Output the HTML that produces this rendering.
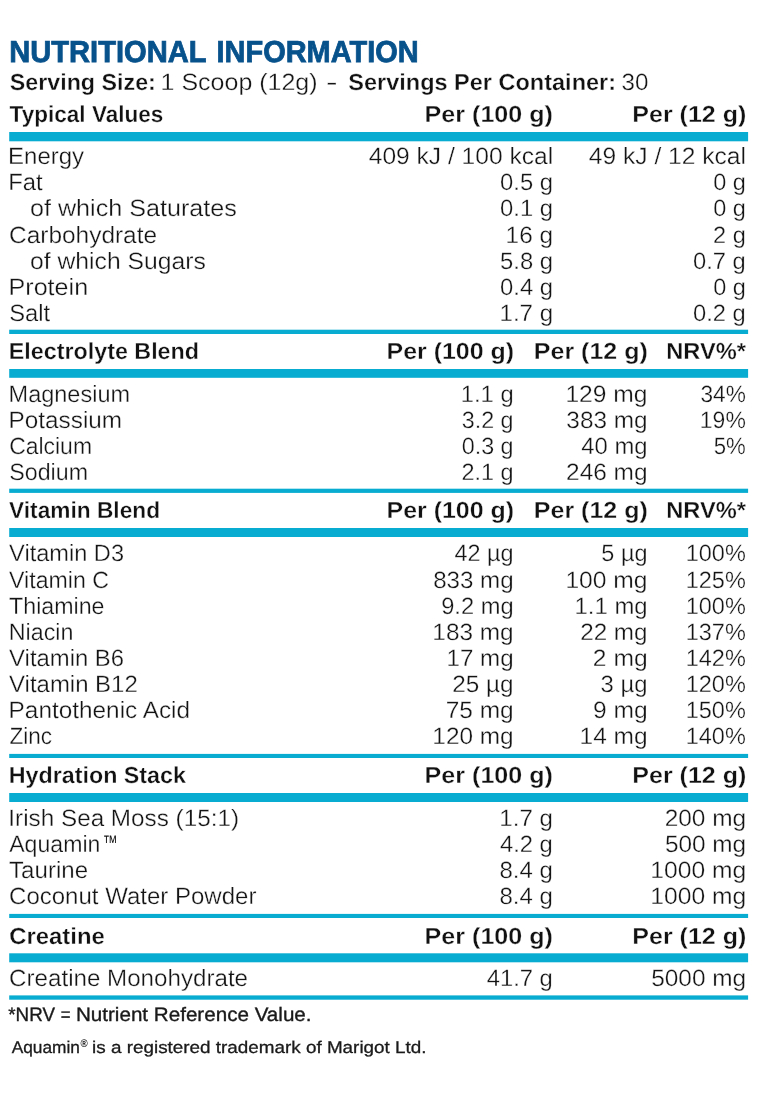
<!DOCTYPE html>
<html lang="en">
<head>
<meta charset="utf-8">
<title>Nutritional Information</title>
<style>
html,body{margin:0;padding:0;background:#fff;}
body{width:771px;height:1096px;overflow:hidden;}
svg{display:block;}
text{font-family:"Liberation Sans",Arial,Helvetica,sans-serif;white-space:pre;text-rendering:geometricPrecision;}
.light{font-size:23.5px;font-weight:400;fill:#141414;stroke:#fff;stroke-width:0.3px;}
.bold{font-size:23.2px;font-weight:700;fill:#111111;stroke:#fff;stroke-width:0.3px;}
.title{font-size:30.4px;font-weight:700;fill:#08528c;stroke:#08528c;stroke-width:0.8px;}
.note1{font-size:19.5px;font-weight:400;fill:#1a1a1a;stroke:#1a1a1a;stroke-width:0.35px;}
.note2{font-size:17.0px;font-weight:400;fill:#1a1a1a;stroke:#1a1a1a;stroke-width:0.3px;}
.tm{font-size:19.5px;font-weight:400;fill:#141414;}
.bar{fill:#08acd0;}
</style>
</head>
<body>
<svg width="771" height="1096" viewBox="0 0 771 1096">
<rect x="0" y="0" width="771" height="1096" fill="#ffffff"/>
<rect class="bar" x="9.2" y="132.00" width="738.90" height="9.30"/>
<rect class="bar" x="9.2" y="369.00" width="738.90" height="8.80"/>
<rect class="bar" x="9.2" y="528.00" width="738.90" height="9.00"/>
<rect class="bar" x="9.2" y="793.00" width="738.90" height="9.00"/>
<rect class="bar" x="9.2" y="953.30" width="738.90" height="9.00"/>
<rect class="bar" x="9.2" y="329.70" width="738.90" height="4.30"/>
<rect class="bar" x="9.2" y="488.70" width="738.90" height="4.20"/>
<rect class="bar" x="9.2" y="753.90" width="738.90" height="4.10"/>
<rect class="bar" x="9.2" y="913.90" width="738.90" height="4.10"/>
<rect class="bar" x="9.2" y="995.40" width="738.90" height="4.30"/>
<text class="title" x="9.25" y="62.00" textLength="197.24" lengthAdjust="spacingAndGlyphs">NUTRITIONAL</text>
<text class="title" x="216.58" y="62.00" textLength="202.05" lengthAdjust="spacingAndGlyphs">INFORMATION</text>
<text class="bold" x="9.73" y="90.00" textLength="146.11" lengthAdjust="spacingAndGlyphs">Serving Size:</text>
<text class="light" x="160.60" y="90.00" textLength="156.95" lengthAdjust="spacingAndGlyphs">1 Scoop (12g)</text>
<text class="light" x="325.95" y="90.00" textLength="11.59" lengthAdjust="spacingAndGlyphs">-</text>
<text class="bold" x="348.32" y="90.00" textLength="267.74" lengthAdjust="spacingAndGlyphs">Servings Per Container:</text>
<text class="light" x="621.58" y="90.00" textLength="26.86" lengthAdjust="spacingAndGlyphs">30</text>
<text class="bold" x="9.55" y="122.00" textLength="153.86" lengthAdjust="spacingAndGlyphs">Typical Values</text>
<text class="bold" x="424.62" y="122.00" textLength="128.33" lengthAdjust="spacingAndGlyphs">Per (100 g)</text>
<text class="bold" x="632.33" y="122.00" textLength="113.92" lengthAdjust="spacingAndGlyphs">Per (12 g)</text>
<text class="light" x="8.13" y="164.00" textLength="75.91" lengthAdjust="spacingAndGlyphs">Energy</text>
<text class="light" x="368.74" y="164.00" textLength="184.41" lengthAdjust="spacingAndGlyphs">409 kJ / 100 kcal</text>
<text class="light" x="588.84" y="164.00" textLength="157.11" lengthAdjust="spacingAndGlyphs">49 kJ / 12 kcal</text>
<text class="light" x="8.25" y="190.00" textLength="34.43" lengthAdjust="spacingAndGlyphs">Fat</text>
<text class="light" x="500.07" y="190.00" textLength="52.97" lengthAdjust="spacingAndGlyphs">0.5 g</text>
<text class="light" x="713.18" y="190.00" textLength="32.63" lengthAdjust="spacingAndGlyphs">0 g</text>
<text class="light" x="29.94" y="216.00" textLength="206.97" lengthAdjust="spacingAndGlyphs">of which Saturates</text>
<text class="light" x="500.07" y="216.00" textLength="52.97" lengthAdjust="spacingAndGlyphs">0.1 g</text>
<text class="light" x="713.18" y="216.00" textLength="32.63" lengthAdjust="spacingAndGlyphs">0 g</text>
<text class="light" x="9.06" y="243.00" textLength="148.03" lengthAdjust="spacingAndGlyphs">Carbohydrate</text>
<text class="light" x="505.64" y="243.00" textLength="47.43" lengthAdjust="spacingAndGlyphs">16 g</text>
<text class="light" x="713.12" y="243.00" textLength="32.70" lengthAdjust="spacingAndGlyphs">2 g</text>
<text class="light" x="29.96" y="269.00" textLength="175.93" lengthAdjust="spacingAndGlyphs">of which Sugars</text>
<text class="light" x="500.05" y="269.00" textLength="52.99" lengthAdjust="spacingAndGlyphs">5.8 g</text>
<text class="light" x="693.07" y="269.00" textLength="52.76" lengthAdjust="spacingAndGlyphs">0.7 g</text>
<text class="light" x="8.54" y="295.00" textLength="79.59" lengthAdjust="spacingAndGlyphs">Protein</text>
<text class="light" x="500.07" y="295.00" textLength="52.97" lengthAdjust="spacingAndGlyphs">0.4 g</text>
<text class="light" x="713.18" y="295.00" textLength="32.63" lengthAdjust="spacingAndGlyphs">0 g</text>
<text class="light" x="9.22" y="321.00" textLength="40.95" lengthAdjust="spacingAndGlyphs">Salt</text>
<text class="light" x="499.57" y="321.00" textLength="53.48" lengthAdjust="spacingAndGlyphs">1.7 g</text>
<text class="light" x="693.07" y="321.00" textLength="52.76" lengthAdjust="spacingAndGlyphs">0.2 g</text>
<text class="bold" x="8.74" y="359.00" textLength="190.29" lengthAdjust="spacingAndGlyphs">Electrolyte Blend</text>
<text class="bold" x="386.63" y="359.00" textLength="127.41" lengthAdjust="spacingAndGlyphs">Per (100 g)</text>
<text class="bold" x="533.83" y="359.00" textLength="113.92" lengthAdjust="spacingAndGlyphs">Per (12 g)</text>
<text class="bold" x="666.23" y="359.00" textLength="79.80" lengthAdjust="spacingAndGlyphs">NRV%*</text>
<text class="light" x="8.57" y="402.00" textLength="121.48" lengthAdjust="spacingAndGlyphs">Magnesium</text>
<text class="light" x="460.79" y="402.00" textLength="52.84" lengthAdjust="spacingAndGlyphs">1.1 g</text>
<text class="light" x="565.42" y="402.00" textLength="82.16" lengthAdjust="spacingAndGlyphs">129 mg</text>
<text class="light" x="700.44" y="402.00" textLength="45.37" lengthAdjust="spacingAndGlyphs">34%</text>
<text class="light" x="8.61" y="428.00" textLength="113.50" lengthAdjust="spacingAndGlyphs">Potassium</text>
<text class="light" x="461.71" y="428.00" textLength="51.89" lengthAdjust="spacingAndGlyphs">3.2 g</text>
<text class="light" x="566.37" y="428.00" textLength="81.20" lengthAdjust="spacingAndGlyphs">383 mg</text>
<text class="light" x="699.85" y="428.00" textLength="45.97" lengthAdjust="spacingAndGlyphs">19%</text>
<text class="light" x="9.13" y="454.00" textLength="82.88" lengthAdjust="spacingAndGlyphs">Calcium</text>
<text class="light" x="461.69" y="454.00" textLength="51.92" lengthAdjust="spacingAndGlyphs">0.3 g</text>
<text class="light" x="581.25" y="454.00" textLength="66.28" lengthAdjust="spacingAndGlyphs">40 mg</text>
<text class="light" x="713.71" y="454.00" textLength="32.08" lengthAdjust="spacingAndGlyphs">5%</text>
<text class="light" x="9.24" y="480.00" textLength="78.79" lengthAdjust="spacingAndGlyphs">Sodium</text>
<text class="light" x="461.42" y="480.00" textLength="52.19" lengthAdjust="spacingAndGlyphs">2.1 g</text>
<text class="light" x="566.07" y="480.00" textLength="81.50" lengthAdjust="spacingAndGlyphs">246 mg</text>
<text class="bold" x="9.05" y="518.00" textLength="150.95" lengthAdjust="spacingAndGlyphs">Vitamin Blend</text>
<text class="bold" x="386.63" y="518.00" textLength="127.41" lengthAdjust="spacingAndGlyphs">Per (100 g)</text>
<text class="bold" x="533.83" y="518.00" textLength="113.92" lengthAdjust="spacingAndGlyphs">Per (12 g)</text>
<text class="bold" x="666.23" y="518.00" textLength="79.80" lengthAdjust="spacingAndGlyphs">NRV%*</text>
<text class="light" x="9.10" y="561.00" textLength="114.94" lengthAdjust="spacingAndGlyphs">Vitamin D3</text>
<text class="light" x="454.46" y="561.00" textLength="59.15" lengthAdjust="spacingAndGlyphs">42 µg</text>
<text class="light" x="601.36" y="561.00" textLength="46.15" lengthAdjust="spacingAndGlyphs">5 µg</text>
<text class="light" x="685.71" y="561.00" textLength="60.13" lengthAdjust="spacingAndGlyphs">100%</text>
<text class="light" x="9.10" y="588.00" textLength="99.78" lengthAdjust="spacingAndGlyphs">Vitamin C</text>
<text class="light" x="433.15" y="588.00" textLength="80.50" lengthAdjust="spacingAndGlyphs">833 mg</text>
<text class="light" x="565.42" y="588.00" textLength="82.16" lengthAdjust="spacingAndGlyphs">100 mg</text>
<text class="light" x="685.71" y="588.00" textLength="60.13" lengthAdjust="spacingAndGlyphs">125%</text>
<text class="light" x="9.08" y="614.00" textLength="95.45" lengthAdjust="spacingAndGlyphs">Thiamine</text>
<text class="light" x="441.19" y="614.00" textLength="72.44" lengthAdjust="spacingAndGlyphs">9.2 mg</text>
<text class="light" x="574.58" y="614.00" textLength="72.96" lengthAdjust="spacingAndGlyphs">1.1 mg</text>
<text class="light" x="685.71" y="614.00" textLength="60.13" lengthAdjust="spacingAndGlyphs">100%</text>
<text class="light" x="8.79" y="640.00" textLength="64.72" lengthAdjust="spacingAndGlyphs">Niacin</text>
<text class="light" x="432.34" y="640.00" textLength="81.33" lengthAdjust="spacingAndGlyphs">183 mg</text>
<text class="light" x="580.18" y="640.00" textLength="67.38" lengthAdjust="spacingAndGlyphs">22 mg</text>
<text class="light" x="685.71" y="640.00" textLength="60.13" lengthAdjust="spacingAndGlyphs">137%</text>
<text class="light" x="9.10" y="666.00" textLength="114.95" lengthAdjust="spacingAndGlyphs">Vitamin B6</text>
<text class="light" x="446.56" y="666.00" textLength="67.09" lengthAdjust="spacingAndGlyphs">17 mg</text>
<text class="light" x="592.86" y="666.00" textLength="54.72" lengthAdjust="spacingAndGlyphs">2 mg</text>
<text class="light" x="685.71" y="666.00" textLength="60.13" lengthAdjust="spacingAndGlyphs">142%</text>
<text class="light" x="9.10" y="692.00" textLength="128.60" lengthAdjust="spacingAndGlyphs">Vitamin B12</text>
<text class="light" x="452.28" y="692.00" textLength="61.39" lengthAdjust="spacingAndGlyphs">25 µg</text>
<text class="light" x="600.59" y="692.00" textLength="46.95" lengthAdjust="spacingAndGlyphs">3 µg</text>
<text class="light" x="685.71" y="692.00" textLength="60.13" lengthAdjust="spacingAndGlyphs">120%</text>
<text class="light" x="8.62" y="718.00" textLength="181.44" lengthAdjust="spacingAndGlyphs">Pantothenic Acid</text>
<text class="light" x="445.65" y="718.00" textLength="68.03" lengthAdjust="spacingAndGlyphs">75 mg</text>
<text class="light" x="592.95" y="718.00" textLength="54.64" lengthAdjust="spacingAndGlyphs">9 mg</text>
<text class="light" x="685.71" y="718.00" textLength="60.13" lengthAdjust="spacingAndGlyphs">150%</text>
<text class="light" x="9.48" y="744.00" textLength="42.61" lengthAdjust="spacingAndGlyphs">Zinc</text>
<text class="light" x="432.34" y="744.00" textLength="81.33" lengthAdjust="spacingAndGlyphs">120 mg</text>
<text class="light" x="579.54" y="744.00" textLength="68.04" lengthAdjust="spacingAndGlyphs">14 mg</text>
<text class="light" x="685.71" y="744.00" textLength="60.13" lengthAdjust="spacingAndGlyphs">140%</text>
<text class="bold" x="8.74" y="783.00" textLength="177.23" lengthAdjust="spacingAndGlyphs">Hydration Stack</text>
<text class="bold" x="424.62" y="783.00" textLength="128.33" lengthAdjust="spacingAndGlyphs">Per (100 g)</text>
<text class="bold" x="632.33" y="783.00" textLength="113.92" lengthAdjust="spacingAndGlyphs">Per (12 g)</text>
<text class="light" x="8.36" y="826.00" textLength="230.64" lengthAdjust="spacingAndGlyphs">Irish Sea Moss (15:1)</text>
<text class="light" x="499.37" y="826.00" textLength="53.48" lengthAdjust="spacingAndGlyphs">1.7 g</text>
<text class="light" x="664.67" y="826.00" textLength="81.50" lengthAdjust="spacingAndGlyphs">200 mg</text>
<text class="light" x="9.15" y="852.00" textLength="91.25" lengthAdjust="spacingAndGlyphs">Aquamin</text>
<text class="light" x="499.95" y="852.00" textLength="52.88" lengthAdjust="spacingAndGlyphs">4.2 g</text>
<text class="light" x="664.92" y="852.00" textLength="81.25" lengthAdjust="spacingAndGlyphs">500 mg</text>
<text class="light" x="9.08" y="878.00" textLength="78.96" lengthAdjust="spacingAndGlyphs">Taurine</text>
<text class="light" x="499.46" y="878.00" textLength="53.39" lengthAdjust="spacingAndGlyphs">8.4 g</text>
<text class="light" x="650.32" y="878.00" textLength="95.86" lengthAdjust="spacingAndGlyphs">1000 mg</text>
<text class="light" x="9.09" y="904.00" textLength="247.31" lengthAdjust="spacingAndGlyphs">Coconut Water Powder</text>
<text class="light" x="499.46" y="904.00" textLength="53.39" lengthAdjust="spacingAndGlyphs">8.4 g</text>
<text class="light" x="650.32" y="904.00" textLength="95.86" lengthAdjust="spacingAndGlyphs">1000 mg</text>
<text class="tm" x="102.84" y="849.00" textLength="14.84" lengthAdjust="spacingAndGlyphs">™</text>
<text class="bold" x="9.22" y="944.00" textLength="95.60" lengthAdjust="spacingAndGlyphs">Creatine</text>
<text class="bold" x="424.62" y="944.00" textLength="128.33" lengthAdjust="spacingAndGlyphs">Per (100 g)</text>
<text class="bold" x="632.33" y="944.00" textLength="113.92" lengthAdjust="spacingAndGlyphs">Per (12 g)</text>
<text class="light" x="9.07" y="986.00" textLength="239.00" lengthAdjust="spacingAndGlyphs">Creatine Monohydrate</text>
<text class="light" x="486.75" y="986.00" textLength="66.08" lengthAdjust="spacingAndGlyphs">41.7 g</text>
<text class="light" x="651.22" y="986.00" textLength="94.95" lengthAdjust="spacingAndGlyphs">5000 mg</text>
<text class="note1" x="8.30" y="1021.00" textLength="46.68" lengthAdjust="spacingAndGlyphs">*NRV</text>
<text class="note1" x="60.79" y="1021.00" textLength="9.74" lengthAdjust="spacingAndGlyphs">=</text>
<text class="note1" x="75.92" y="1021.00" textLength="235.65" lengthAdjust="spacingAndGlyphs">Nutrient Reference Value.</text>
<text class="note2" x="11.67" y="1053.20" textLength="68.26" lengthAdjust="spacingAndGlyphs">Aquamin</text>
<text class="note2" x="92.14" y="1053.20" textLength="334.38" lengthAdjust="spacingAndGlyphs">is a registered trademark of Marigot Ltd.</text>
<text x="80.4" y="1046.6" textLength="7.2" lengthAdjust="spacingAndGlyphs" style="font-size:11px;fill:#1a1a1a;font-weight:700">®</text>
</svg>
</body>
</html>
